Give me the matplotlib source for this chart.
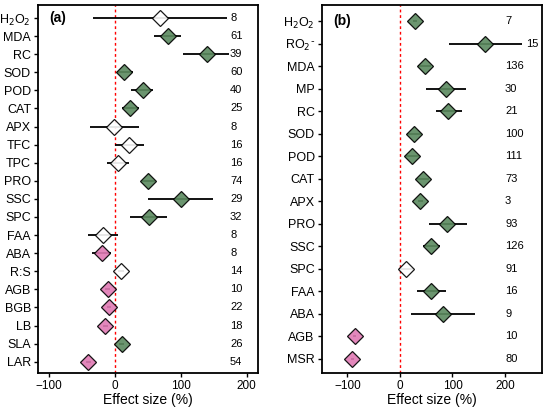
import matplotlib
matplotlib.use("Agg")
import matplotlib.pyplot as plt

plt.rcParams['font.family'] = ['Liberation Sans', 'DejaVu Sans']

# Panel (a)
a_labels = ["H$_2$O$_2$", "MDA", "RC", "SOD", "POD", "CAT", "APX", "TFC", "TPC", "PRO",
            "SSC", "SPC", "FAA", "ABA", "R:S", "AGB", "BGB", "LB", "SLA", "LAR"]
a_mean = [67.7, 79.8, 139.4, 14.1, 41.9, 23.2, -1.0, 21.2, 5.0, 50.0,
          99.5, 51.5, -18.2, -20.2, 8.6, -11.1, -9.1, -14.6, 10.1, -40.4]
a_low = [-33.8, 58.6, 103.5, 2.5, 24.2, 10.1, -38.4, -0.5, -11.6, 40.9,
         50.0, 23.2, -40.9, -34.8, 4.0, -15.0, -12.0, -18.0, 6.0, -44.0]
a_high = [169.7, 100.5, 173.7, 26.8, 58.0, 36.4, 36.4, 44.4, 20.7, 60.1,
          149.5, 78.8, 5.0, -5.6, 13.0, -7.0, -6.0, -11.0, 14.0, -37.0]
a_n = [8, 61, 39, 60, 40, 25, 8, 16, 16, 74, 29, 32, 8, 8, 14, 10, 22, 18, 26, 54]
a_sig = ["ns", "pos", "pos", "pos", "pos", "pos", "ns", "ns", "ns", "pos",
         "pos", "pos", "ns", "neg", "ns", "neg", "neg", "neg", "pos", "neg"]

# Panel (b)
b_labels = ["H$_2$O$_2$", "RO$_2$$^{\\bar{\\ }}$", "MDA", "MP", "RC", "SOD", "POD", "CAT", "APX",
            "PRO", "SSC", "SPC", "FAA", "ABA", "AGB", "MSR"]
b_mean = [28.7, 162.4, 47.8, 87.3, 91.7, 26.8, 22.3, 43.3, 38.9,
          90.4, 59.2, 11.5, 58.6, 82.2, -86.0, -91.1]
b_low = [24.0, 93.6, 35.0, 49.0, 68.2, 14.0, 11.5, 31.8, 34.0,
         55.4, 43.3, -2.0, 31.8, 20.4, -89.0, -94.0]
b_high = [33.0, 232.5, 59.2, 125.5, 117.8, 39.5, 36.3, 55.4, 44.0,
          126.8, 75.8, 24.8, 87.3, 143.3, -83.0, -88.0]
b_n = [7, 15, 136, 30, 21, 100, 111, 73, 3, 93, 126, 91, 16, 9, 10, 80]
b_sig = ["pos", "pos", "pos", "pos", "pos", "pos", "pos", "pos", "pos",
         "pos", "pos", "ns", "pos", "pos", "neg", "neg"]

colors = {"pos": "#5b8a5f", "neg": "#e07ab4", "ns": "#ffffff"}

fig = plt.figure(figsize=(5.5, 4.13), dpi=100)
ax_a = fig.add_axes([0.069, 0.097, 0.4, 0.891])
ax_b = fig.add_axes([0.585, 0.097, 0.4, 0.891])


def draw(ax, labels, mean, low, high, n, sig, xlim, tag, nx):
    k = len(labels)
    ys = list(range(k))
    ax.axvline(0, color="red", lw=1.0, ls=(0, (2, 2)), zorder=1)
    for y, m, lo, hi, s in zip(ys, mean, low, high, sig):
        ax.plot([lo, hi], [y, y], color="black", lw=1.3, zorder=2, solid_capstyle="butt")
        ax.plot([m], [y], marker="D", ms=8.5, mfc=colors[s], mec="black", mew=0.9,
                alpha=0.9, zorder=3, ls="none")
    for y, nn in zip(ys, n):
        ax.text(nx, y, str(nn), transform=ax.get_yaxis_transform(), ha="left",
                va="center", fontsize=8)
    ax.set_xlim(*xlim)
    ax.set_ylim(k - 1 + 0.62, -0.72)
    ax.set_yticks(ys)
    ax.set_yticklabels(labels, fontsize=9)
    ax.set_xticks([-100, 0, 100, 200])
    ax.set_xticklabels(["\u2212100", "0", "100", "200"], fontsize=8.5)
    ax.set_xlabel("Effect size (%)", fontsize=10, labelpad=1)
    ax.tick_params(axis="both", length=3, width=1, pad=2)
    for sp in ax.spines.values():
        sp.set_linewidth(1.3)
    ax.text(0.05, 0, tag, transform=ax.get_yaxis_transform(), ha="left", va="center",
            fontsize=10, fontweight="bold")


draw(ax_a, a_labels, a_mean, a_low, a_high, a_n, a_sig, (-117, 217), "(a)", 0.873)
draw(ax_b, b_labels, b_mean, b_low, b_high, b_n, b_sig, (-149, 270), "(b)", 0.833)

# move the RO2- count label beyond its interval
for t in ax_b.texts:
    if t.get_text() == "15":
        t.set_transform(ax_b.transData)
        t.set_position((b_high[1] + 8, 1))

fig.savefig("out.png", dpi=100)
